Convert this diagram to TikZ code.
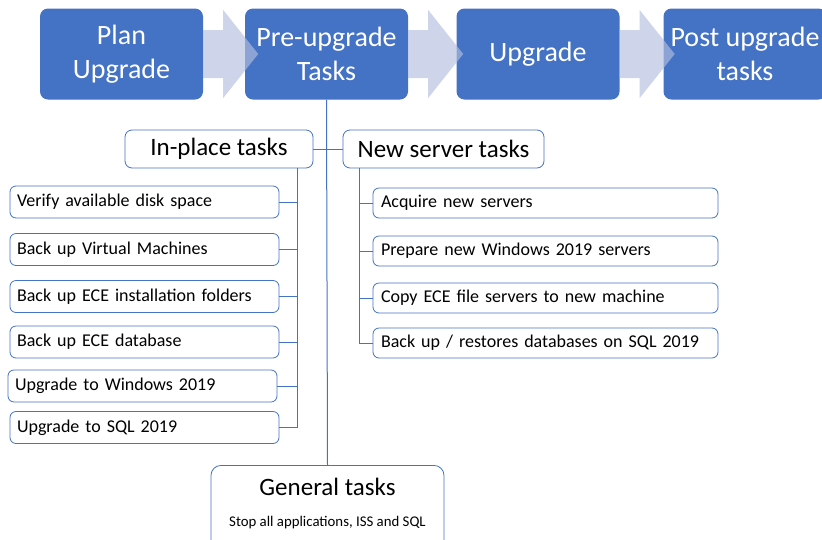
\documentclass[tikz,border=0pt]{standalone}
\usepackage{fontspec}
\setmainfont{Carlito}
\usetikzlibrary{calc}
\definecolor{boxblue}{HTML}{4472C4}
\definecolor{arrowlav}{HTML}{B4BEDF}
\tikzset{
  phase/.style={fill=boxblue, draw=none, rounded corners=8pt, minimum width=163pt, minimum height=91pt,
    text=white, align=center, font=\fontsize{28}{34}\selectfont, inner sep=0pt},
  blockarrow/.style={fill=arrowlav, fill opacity=0.65, draw=none},
  headbox/.style={draw=boxblue, line width=0.8pt, fill=white, rounded corners=7pt, minimum height=38pt,
    inner sep=0pt, font=\fontsize{25}{30}\selectfont},
  task/.style={draw=boxblue, line width=0.8pt, fill=white, rounded corners=6pt, minimum height=32pt,
    inner xsep=7pt, inner ysep=0pt, align=left, font=\fontsize{18}{22}\selectfont},
  link/.style={draw=boxblue, line width=1pt},
}
\begin{document}
\begin{tikzpicture}[x=1pt,y=-1pt]
\useasboundingbox (0,0) rectangle (822,539);
\clip (0,0) rectangle (822,539);
% phases
\node[phase] (plan) at (121.5,54) {Plan\\Upgrade};
\node[phase] (pre) at (326.5,54) {Pre-upgrade\\Tasks};
\node[phase] (upg) at (538,54) {Upgrade};
\node[phase] (post) at (745,54) {Post upgrade\\tasks};
% block arrows
\foreach \b in {plan,pre,upg}{
  \fill[blockarrow] ($(\b.east)+(0,-24)$) -- ($(\b.east)+(20,-24)$) -- ($(\b.east)+(20,-44)$)
    -- ($(\b.east)+(55,0)$) -- ($(\b.east)+(20,44)$) -- ($(\b.east)+(20,24)$) -- ($(\b.east)+(0,24)$) -- cycle;
}
% headings
\node[headbox, minimum width=188pt] (inplace) at (219,149) {In-place tasks};
\node[headbox, minimum width=201pt] (newsrv) at (443.5,149) {New server tasks};
% general box
\node[draw=boxblue, line width=0.8pt, fill=white, rounded corners=10pt, minimum width=233pt, minimum height=90pt,
  anchor=north, inner sep=0pt] (general) at (327.5,465) {};
\node[font=\fontsize{25}{30}\selectfont] (gtitle) at (327.5,487) {General tasks};
\node[font=\fontsize{14.8}{17}\selectfont] (gsub) at (327.5,523) {Stop all applications, ISS and SQL};
% in-place tasks
\node[task, text width=255pt] (t1) at (144.5,202) {Verify available disk space};
\node[task, text width=255pt] (t2) at (144.5,249.5) {Back up Virtual Machines};
\node[task, text width=255pt] (t3) at (144.5,296.5) {Back up ECE installation folders};
\node[task, text width=255pt] (t4) at (144.5,342) {Back up ECE database};
\node[task, text width=255pt] (t5) at (142.5,386) {Upgrade to Windows 2019};
\node[task, text width=255pt] (t6) at (144.5,427.5) {Upgrade to SQL 2019};
% new server tasks
\node[task, inner xsep=8pt, text width=329pt, minimum height=30pt] (n1) at (545.5,203) {Acquire new servers};
\node[task, inner xsep=8pt, text width=329pt, minimum height=30pt] (n2) at (545.5,251) {Prepare new Windows 2019 servers};
\node[task, inner xsep=8pt, text width=329pt, minimum height=30pt] (n3) at (545.5,298) {Copy ECE file servers to new machine};
\node[task, inner xsep=8pt, text width=329pt, minimum height=30pt] (n4) at (545.5,343) {Back up / restores databases on SQL 2019};
% connectors
\coordinate (ipv) at ($(inplace.south east)+(-16,0)$);
\coordinate (nsv) at ($(newsrv.south west)+(17,0)$);
\draw[link] (pre.south) -- (general.north);
\draw[link] (inplace.east) -- (newsrv.west);
\draw[link] (ipv) |- (t6.east);
\foreach \t in {t1,t2,t3,t4,t5}{ \draw[link] (\t.east) -- (\t.east -| ipv); }
\draw[link] (nsv) |- (n4.west);
\foreach \t in {n1,n2,n3}{ \draw[link] (\t.west) -- (\t.west -| nsv); }
\end{tikzpicture}
\end{document}
